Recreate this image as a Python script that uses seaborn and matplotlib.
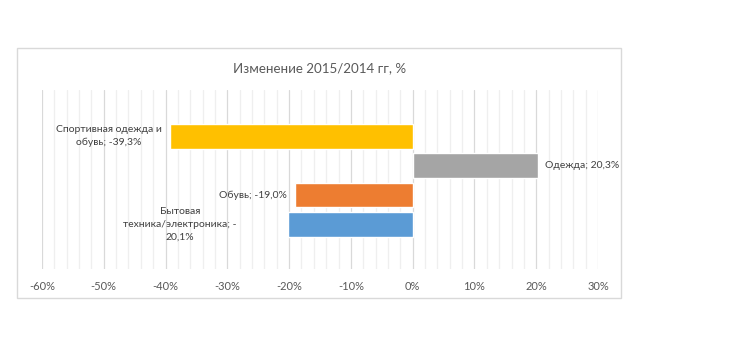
import matplotlib
matplotlib.use("Agg")
import matplotlib.pyplot as plt
import seaborn as sns
import pandas as pd
from matplotlib.patches import Rectangle

categories = ["Спортивная одежда и обувь", "Одежда", "Обувь", "Бытовая техника/электроника"]
values = [-39.3, 20.3, -19.0, -20.1]
labels = ["Спортивная одежда и\nобувь; -39,3%", "Одежда; 20,3%", "Обувь; -19,0%",
          "Бытовая\nтехника/электроника; -\n20,1%"]
colors = ["#FFC000", "#A5A5A5", "#ED7D31", "#5B9BD5"]
tick_values = [-60, -50, -40, -30, -20, -10, 0, 10, 20, 30]
tick_labels = ["-60%", "-50%", "-40%", "-30%", "-20%", "-10%", "0%", "10%", "20%", "30%"]
title = "Изменение 2015/2014 гг, %"

df = pd.DataFrame({"group": ["2015/2014"] * 4, "category": categories, "value": values})

sns.set_theme(style="white")
plt.rcParams["font.family"] = ["Lato", "DejaVu Sans"]

W, H = 737, 353
fig = plt.figure(figsize=(W / 100, H / 100), dpi=100)
fig.patches.append(Rectangle((17 / W, 1 - 298 / H), 604 / W, 250 / H, transform=fig.transFigure,
                             fill=False, edgecolor="#D9D9D9", linewidth=1.0))
ax = fig.add_axes([42 / W, 1 - 269 / H, (598 - 42) / W, (269 - 90) / H])

sns.barplot(data=df, y="group", x="value", hue="category", hue_order=categories,
            palette=colors, orient="h", gap=0.167, legend=False, ax=ax, saturation=1)

ax.set_xlim(-60, 30)
ax.set_ylim(0.603, -0.615)
ax.set_xticks(tick_values)
ax.set_xticklabels(tick_labels, color="#595959", fontsize=8)
ax.set_xticks(range(-60, 31, 2), minor=True)
ax.grid(axis="x", which="major", color="#D9D9D9", linewidth=0.9)
ax.grid(axis="x", which="minor", color="#EFEFEF", linewidth=0.9)
ax.set_axisbelow(True)
ax.tick_params(axis="x", which="both", length=0, pad=9)
ax.set_yticks([])
ax.set_xlabel("")
ax.set_ylabel("")
for s in ax.spines.values():
    s.set_visible(False)

# data labels
offsets = [(-8, "right"), (7, "left"), (-8, "right"), (-52, "right")]
ypos = [-0.3, -0.1, 0.1, 0.3]
for v, lab, (dx, ha), yy in zip(values, labels, offsets, ypos):
    ax.annotate(lab, xy=(v, yy), xytext=(dx, 0), textcoords="offset pixels",
                ha=ha, va="center", multialignment="center", fontsize=7.5,
                color="#404040", linespacing=1.55)

fig.text((235 + 405) / 2 / W, 1 - 68 / H, title, ha="center", va="center",
         fontsize=9.6, color="#595959")

fig.savefig("out.png", dpi=100)
